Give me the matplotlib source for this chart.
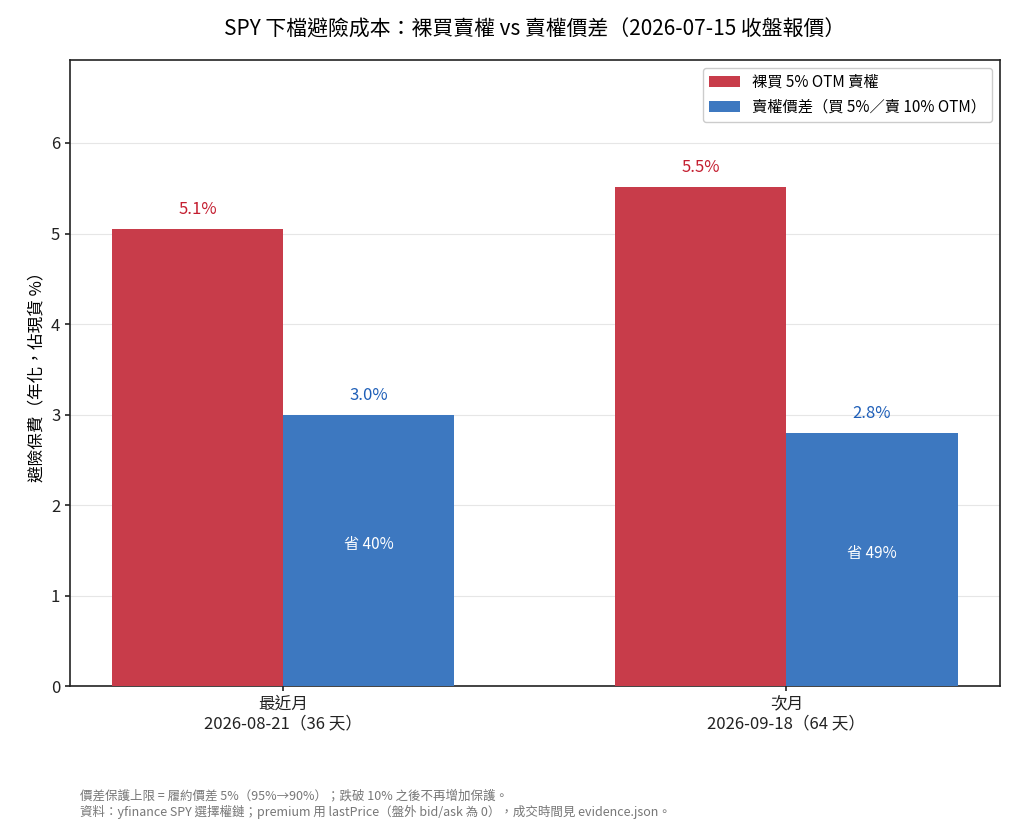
import matplotlib
matplotlib.use('Agg')
import matplotlib.pyplot as plt
import numpy as np

plt.rcParams['font.family'] = ['Noto Sans CJK TC', 'DejaVu Sans']

# 資料
categories = ['最近月\n2026-08-21（36 天）', '次月\n2026-09-18（64 天）']
naked_put = [5.05, 5.51]
put_spread = [3.0, 2.8]
naked_labels = ['5.1%', '5.5%']
spread_labels = ['3.0%', '2.8%']
savings = ['省 40%', '省 49%']

red = '#c83c4a'
blue = '#3d78c0'

fig, ax = plt.subplots(figsize=(10.14, 8.35), dpi=100)
x = np.arange(len(categories))
w = 0.34

ax.bar(x - w / 2, naked_put, w, color=red, label='裸買 5% OTM 賣權', zorder=3)
ax.bar(x + w / 2, put_spread, w, color=blue, label='賣權價差（買 5%／賣 10% OTM）', zorder=3)

for i in range(len(x)):
    ax.text(x[i] - w / 2, naked_put[i] + 0.12, naked_labels[i], ha='center', va='bottom',
            color='#c41e30', fontsize=12)
    ax.text(x[i] + w / 2, put_spread[i] + 0.12, spread_labels[i], ha='center', va='bottom',
            color='#1f5fb8', fontsize=12)
    ax.text(x[i] + w / 2, put_spread[i] / 2 + 0.07, savings[i], ha='center', va='center',
            color='white', fontsize=11)

ax.set_xticks(x)
ax.set_xticklabels(categories, fontsize=12)
ax.tick_params(axis='y', labelsize=12)
ax.tick_params(colors='#222222', width=1.2)
for s in ax.spines.values():
    s.set_color('#222222')
    s.set_linewidth(1.2)
ax.set_ylim(0, max(naked_put) * 1.255)
ax.set_ylabel('避險保費（年化，佔現貨 %）', fontsize=12)
ax.yaxis.grid(True, color='#e6e6e6', linewidth=0.8, zorder=0)
ax.set_axisbelow(True)

ax.set_title('SPY 下檔避險成本：裸買賣權 vs 賣權價差（2026-07-15 收盤報價）', fontsize=15, pad=18)
ax.legend(loc='upper right', fontsize=11, framealpha=1, edgecolor='#cccccc')

fig.text(0.079, 0.037, '價差保護上限 = 履約價差 5%（95%→90%）；跌破 10% 之後不再增加保護。\n'
         '資料：yfinance SPY 選擇權鏈；premium 用 lastPrice（盤外 bid/ask 為 0），成交時間見 evidence.json。',
         fontsize=9, color='#777777', va='center', linespacing=1.3)

plt.subplots_adjust(left=0.069, right=0.986, top=0.928, bottom=0.178)
plt.savefig('out.png', dpi=100)
